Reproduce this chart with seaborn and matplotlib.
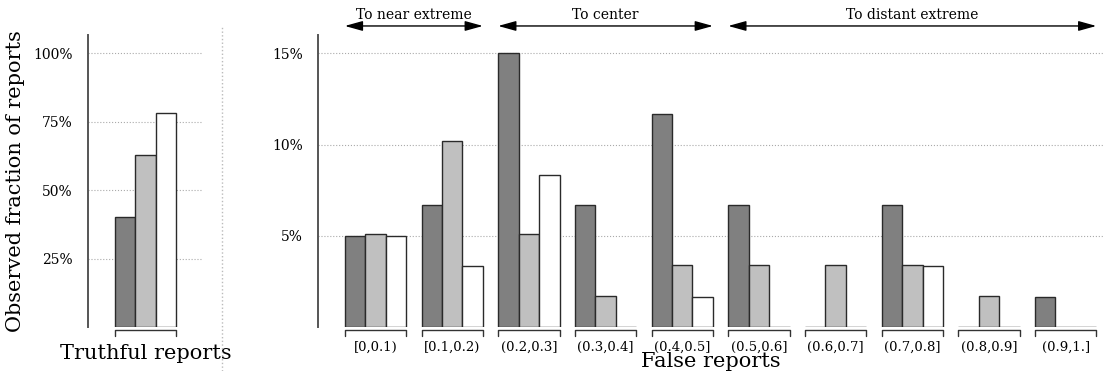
import numpy as np
import pandas as pd
import seaborn as sns
import matplotlib.pyplot as plt
from matplotlib.lines import Line2D
from matplotlib import transforms

# data (percent of reports)
series = ["Group 1", "Group 2", "Group 3"]
colors = ["#808080", "#c0c0c0", "#ffffff"]

truthful = [40.0, 62.7, 78.3]

bins = ["[0,0.1)", "[0.1,0.2)", "(0.2,0.3]", "(0.3,0.4]", "(0.4,0.5]",
        "(0.5,0.6]", "(0.6,0.7]", "(0.7,0.8]", "(0.8,0.9]", "(0.9,1.]"]
false_g1 = [5.0, 6.67, 15.0, 6.67, 11.67, 6.67, 0.0, 6.67, 0.0, 1.67]
false_g2 = [5.08, 10.17, 5.08, 1.69, 3.39, 3.39, 3.39, 3.39, 1.69, 0.0]
false_g3 = [5.0, 3.33, 8.33, 0.0, 1.67, 0.0, 0.0, 3.33, 0.0, 0.0]

regions = [("To near extreme", 0, 1), ("To center", 2, 4), ("To distant extreme", 5, 9)]

df_true = pd.DataFrame({"cat": ["truthful"] * 3, "series": series, "pct": truthful})
df_false = pd.DataFrame({
    "cat": bins * 3,
    "series": np.repeat(series, len(bins)),
    "pct": false_g1 + false_g2 + false_g3,
})

sns.set_theme(style="white")
plt.rcParams["font.family"] = ["DejaVu Serif"]
plt.rcParams["text.color"] = "black"
plt.rcParams["axes.labelcolor"] = "black"
plt.rcParams["xtick.labelcolor"] = "black"
plt.rcParams["ytick.labelcolor"] = "black"

fig = plt.figure(figsize=(11.13, 3.71), dpi=100)
ax1 = fig.add_axes([0.0791, 0.1186, 0.1033, 0.787])
ax2 = fig.add_axes([0.2857, 0.1186, 0.7062, 0.787])

bar_kw = dict(x="cat", y="pct", hue="series", hue_order=series, palette=colors,
              edgecolor="#2a2a2a", linewidth=1.0, width=0.8, legend=False,
              saturation=1)
sns.barplot(data=df_true, ax=ax1, **bar_kw)
sns.barplot(data=df_false, order=bins, ax=ax2, **bar_kw)

spine_col = "#555555"
for ax in (ax1, ax2):
    for s in ("top", "right", "bottom"):
        ax.spines[s].set_visible(False)
    ax.spines["left"].set_color(spine_col)
    ax.spines["left"].set_linewidth(1.4)
    ax.tick_params(axis="y", direction="out", length=8, width=1.4, color=spine_col,
                   labelsize=10, pad=3)
    ax.tick_params(axis="x", length=0, labelsize=9.5, pad=10)
    ax.set_ylabel("")
    ax.set_xlabel("")

# left panel
ax1.set_xlim(-0.754, 0.754)
ax1.set_ylim(0, 106.6)
ax1.set_yticks([25, 50, 75, 100], ["25%", "50%", "75%", "100%"])
ax1.set_xticks([0], [""])
for v in [25, 50, 75, 100]:
    ax1.axhline(v, color="#aaaaaa", ls=":", lw=0.8, zorder=0)
ax1.set_ylabel("Observed fraction of reports", fontsize=15, labelpad=6)
ax1.set_xlabel("Truthful reports", fontsize=15, labelpad=2)

# right panel
ax2.set_xlim(-0.75, 9.5)
ax2.set_ylim(0, 16)
ax2.set_yticks([0, 5, 10, 15], ["", "5%", "10%", "15%"])
ax2.set_xticks(range(len(bins)), bins)
for v in [5, 10, 15]:
    ax2.axhline(v, color="#aaaaaa", ls=":", lw=0.8, zorder=0)
ax2.set_xlabel("False reports", fontsize=15, labelpad=-1)

# bracket under each group
def brackets(ax, n):
    tr = transforms.blended_transform_factory(ax.transData, ax.transAxes)
    for i in range(n):
        x0, x1 = i - 0.4, i + 0.4
        ax.plot([x0, x0, x1, x1], [-0.03, -0.01, -0.01, -0.03], color="#333333",
                lw=1.0, transform=tr, clip_on=False)

brackets(ax1, 1)
brackets(ax2, len(bins))

# region arrows at top
tr2 = transforms.blended_transform_factory(ax2.transData, ax2.transAxes)
for label, a, b in regions:
    ax2.annotate("", xy=(a - 0.4, 1.031), xytext=(b + 0.4, 1.031), xycoords=tr2,
                 textcoords=tr2,
                 arrowprops=dict(arrowstyle="<|-|>,head_length=0.9,head_width=0.25",
                                 color="black", lw=1.0,
                                 shrinkA=0, shrinkB=0, mutation_scale=12))
    ax2.text((a + b) / 2, 1.045, label, transform=tr2, ha="center", va="bottom",
             fontsize=10)

# dotted separator between panels
fig.add_artist(Line2D([0.1995, 0.1995], [0.0, 0.93], color="#bbbbbb", ls=":", lw=1.0))

fig.savefig("out.png", dpi=100)
